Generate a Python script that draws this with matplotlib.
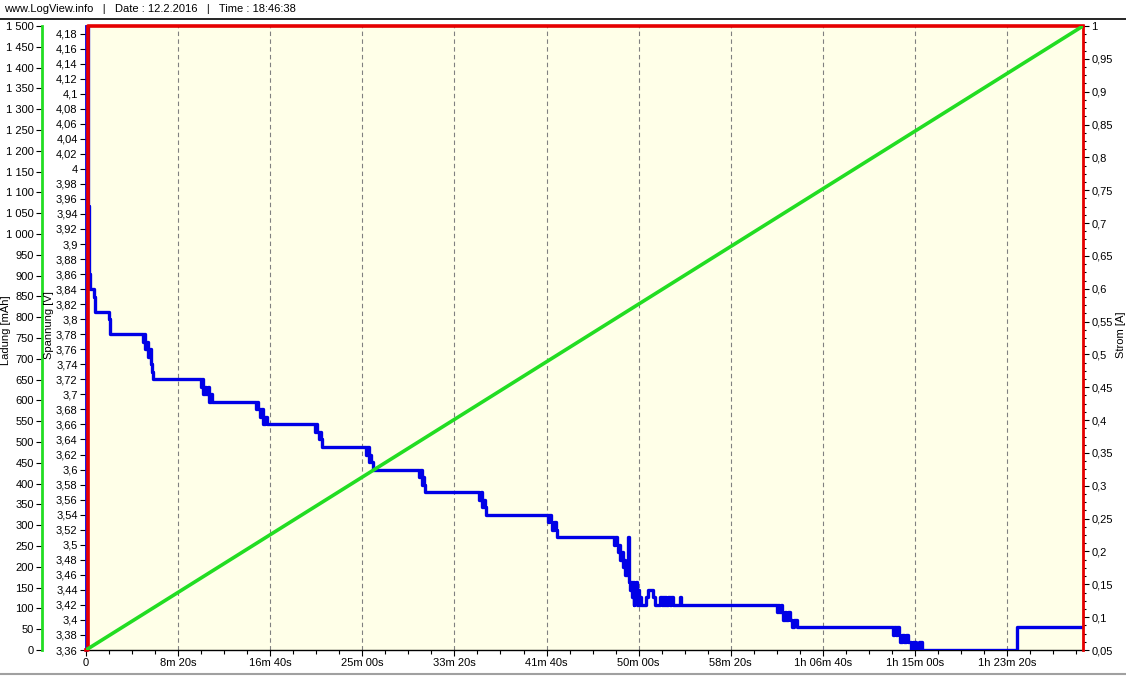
import numpy as np
import matplotlib.pyplot as plt
from matplotlib.lines import Line2D
from matplotlib.ticker import MultipleLocator, AutoMinorLocator, FuncFormatter

plt.rcParams['font.family'] = ['Liberation Sans', 'DejaVu Sans']

# time axis in seconds
x_max = 5412
x_ticks = [0, 500, 1000, 1500, 2000, 2500, 3000, 3500, 4000, 4500, 5000]
x_labels = ['0', '8m 20s', '16m 40s', '25m 00s', '33m 20s', '41m 40s', '50m 00s',
            '58m 20s', '1h 06m 40s', '1h 15m 00s', '1h 23m 20s']

# Spannung [V]
t_volt = [0, 3, 10, 16, 20, 43, 46, 50, 120, 124, 128, 132,
          304, 310, 316, 322, 330, 338, 345, 352, 358, 364,
          619, 624, 630, 636, 644, 652, 660, 668, 676, 684,
          918, 922, 930, 936, 944, 952, 960, 970, 980, 988,
          1238, 1244, 1250, 1256, 1264, 1270, 1276, 1282,
          1515, 1520, 1528, 1534, 1542, 1548, 1558,
          1803, 1808, 1815, 1822, 1830, 1836, 1841,
          2129, 2134, 2142, 2150, 2158, 2165, 2172,
          2503, 2508, 2516, 2524, 2532, 2540, 2550, 2557,
          2862, 2868, 2874, 2880, 2888, 2895, 2900, 2908, 2914, 2922, 2928, 2936, 2941, 2943, 2946,
          2950, 2955, 2960, 2964, 2968, 2972, 2976, 2980, 2985, 2990, 2995, 3000, 3005, 3010,
          3040, 3050, 3080, 3090, 3118, 3124, 3130, 3136, 3145, 3150, 3160, 3168, 3175, 3185,
          3226, 3230,
          3752, 3758, 3764, 3770, 3778, 3786, 3794, 3802, 3812, 3822, 3832, 3845, 3860, 3877,
          4382, 4388, 4396, 4404, 4412, 4420, 4430, 4440, 4452, 4464, 4476, 4490, 4505, 4520, 4540,
          5055, 5412]
v_volt = [3.30, 4.25, 3.95, 3.86, 3.84, 3.84, 3.83, 3.81, 3.81, 3.80, 3.79, 3.78,
          3.78, 3.77, 3.78, 3.76, 3.77, 3.75, 3.76, 3.74, 3.73, 3.72,
          3.72, 3.71, 3.72, 3.70, 3.71, 3.70, 3.71, 3.69, 3.70, 3.69,
          3.69, 3.68, 3.69, 3.68, 3.67, 3.68, 3.66, 3.67, 3.66, 3.66,
          3.66, 3.65, 3.66, 3.65, 3.64, 3.65, 3.64, 3.63,
          3.63, 3.62, 3.63, 3.61, 3.62, 3.61, 3.60,
          3.60, 3.59, 3.60, 3.58, 3.59, 3.58, 3.57,
          3.57, 3.56, 3.57, 3.55, 3.56, 3.55, 3.54,
          3.54, 3.53, 3.54, 3.53, 3.52, 3.53, 3.52, 3.51,
          3.51, 3.50, 3.51, 3.50, 3.49, 3.50, 3.48, 3.49, 3.47, 3.48, 3.46, 3.47, 3.46, 3.51, 3.46,
          3.45, 3.44, 3.45, 3.43, 3.45, 3.42, 3.44, 3.43, 3.45, 3.42, 3.44, 3.42, 3.43, 3.42,
          3.43, 3.44, 3.43, 3.42, 3.43, 3.42, 3.43, 3.42, 3.43, 3.42, 3.43, 3.42, 3.43, 3.42,
          3.43, 3.42,
          3.41, 3.42, 3.41, 3.42, 3.41, 3.40, 3.41, 3.40, 3.41, 3.40, 3.39, 3.40, 3.39, 3.39,
          3.38, 3.39, 3.38, 3.39, 3.38, 3.37, 3.38, 3.37, 3.38, 3.37, 3.36, 3.37, 3.36, 3.37, 3.36,
          3.39, 3.39]

# Strom [A]
t_curr = [0, 12, 5412]
i_curr = [0.05, 1.0, 1.0]

# Ladung [mAh]
t_charge = [0, 5412]
q_charge = [0, 1500]

W, H = 1126, 676
fig = plt.figure(figsize=(W / 100, H / 100), dpi=100)
ax = fig.add_axes([86 / W, 26 / H, 997 / W, 624 / H])
ax.set_facecolor('#FFFFE8')

blue = '#0000E6'
red = '#E60000'
green = '#22DD22'


def comma(v, pos):
    s = ('%.2f' % v).rstrip('0').rstrip('.')
    return s.replace('.', ',')


# voltage (main axis)
ax.plot(t_volt, v_volt, color=blue, lw=2.4, drawstyle='steps-post', zorder=3)
ax.set_xlim(0, x_max)
ax.set_ylim(3.36, 4.19)
ax.yaxis.set_major_locator(MultipleLocator(0.02))
ax.yaxis.set_major_formatter(FuncFormatter(comma))
ax.set_xticks(x_ticks, x_labels)
ax.xaxis.set_minor_locator(AutoMinorLocator(4))
ax.grid(axis='x', which='major', color='#808080', linestyle=(0, (4, 3)), linewidth=0.8)
ax.tick_params(axis='both', which='major', labelsize=8, length=4, width=0.8, pad=2)
ax.tick_params(axis='x', which='minor', length=3, width=0.8)
ax.spines['left'].set_color(blue)
ax.spines['left'].set_linewidth(2)
ax.spines['right'].set_visible(False)
ax.spines['bottom'].set_linewidth(1)

# current (right axis)
axc = ax.twinx()
axc.plot(t_curr, i_curr, color=red, lw=2.6, drawstyle='steps-post', clip_on=False, zorder=3)
axc.set_ylim(0.05, 1.0)
axc.yaxis.set_major_locator(MultipleLocator(0.05))
axc.yaxis.set_minor_locator(AutoMinorLocator(4))
axc.yaxis.set_major_formatter(FuncFormatter(comma))
axc.tick_params(axis='y', which='major', labelsize=8, length=4, width=0.8, pad=2)
axc.tick_params(axis='y', which='minor', length=2.5, width=0.8)
axc.spines['right'].set_color(red)
axc.spines['right'].set_linewidth(2)
for s in ['left', 'top', 'bottom']:
    axc.spines[s].set_visible(False)

# charge (outer left axis)
axq = ax.twinx()
axq.plot(t_charge, q_charge, color=green, lw=2.6, zorder=3)
axq.set_ylim(0, 1500)
axq.yaxis.set_major_locator(MultipleLocator(50))
axq.yaxis.set_major_formatter(FuncFormatter(lambda v, p: '{:,}'.format(int(v)).replace(',', ' ')))
axq.yaxis.set_ticks_position('left')
axq.spines['left'].set_position(('axes', -44 / 997))
axq.spines['left'].set_visible(True)
axq.spines['left'].set_color(green)
axq.spines['left'].set_linewidth(2)
for s in ['right', 'top', 'bottom']:
    axq.spines[s].set_visible(False)
axq.tick_params(axis='y', labelsize=8, length=4, width=0.8, pad=2)

# axis titles
fig.text(6 / W, 1 - 330 / H, 'Ladung [mAh]', rotation=90, fontsize=8, ha='center', va='center')
fig.text(49 / W, 1 - 325 / H, 'Spannung [V]', rotation=90, fontsize=8, ha='center', va='center')
fig.text(1121 / W, 1 - 335 / H, 'Strom [A]', rotation=90, fontsize=8, ha='center', va='center')

# header
fig.text(4 / W, 1 - 9 / H, 'www.LogView.info   |   Date : 12.2.2016   |   Time : 18:46:38',
         fontsize=8, ha='left', va='center')
fig.add_artist(Line2D([0, 1], [1 - 19 / H] * 2, color='black', lw=1.2))
fig.add_artist(Line2D([0, 1], [1 - 674 / H] * 2, color='#A0A0A0', lw=1.5))

plt.savefig('out.png', dpi=100)
